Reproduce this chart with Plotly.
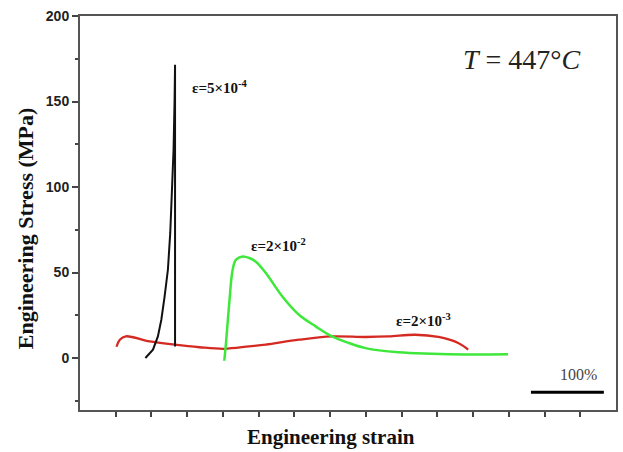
import plotly.graph_objects as go

# Strain (fraction) and stress (MPa)
black_strain = [0.915, 1.021, 1.09, 1.138, 1.184, 1.23, 1.263, 1.291, 1.309, 1.323, 1.33, 1.33]
black_stress = [0.0, 4.9, 12.6, 22.4, 36.0, 51.6, 73.3, 98.4, 121.8, 150.0, 171.5, 6.8]

red_strain = [0.511, 0.557, 0.641, 0.975, 1.323, 1.671, 2.019, 2.368, 2.60, 3.064, 3.528,
              3.993, 4.318, 4.689, 5.014, 5.292, 5.432]
red_stress = [6.6, 10.7, 12.7, 9.7, 7.8, 6.3, 5.4, 6.8, 7.8, 10.7, 12.6,
              12.3, 12.6, 13.6, 12.3, 8.8, 4.9]

green_strain = [2.019, 2.043, 2.089, 2.136, 2.183, 2.274, 2.368, 2.461, 2.60, 2.831, 3.064,
                3.297, 3.528, 3.76, 3.993, 4.457, 4.921, 5.385, 5.989]
green_stress = [-1.6, 8.9, 32.3, 51.6, 57.5, 59.4, 58.5, 56.3, 49.7, 36.0, 25.3,
                18.5, 12.6, 8.8, 5.8, 3.3, 2.5, 2.1, 2.2]

x_ticks = [0.5 * k for k in range(1, 15)]
y_ticks = [0, 50, 100, 150, 200]

serif = "Liberation Serif"

fig = go.Figure()
fig.add_trace(go.Scatter(x=red_strain, y=red_stress, mode="lines",
                         line=dict(color="#d42a22", width=2.3, shape="spline"), showlegend=False))
fig.add_trace(go.Scatter(x=green_strain, y=green_stress, mode="lines",
                         line=dict(color="#3ee83a", width=2.5, shape="spline"), showlegend=False))
fig.add_trace(go.Scatter(x=black_strain, y=black_stress, mode="lines",
                         line=dict(color="#111111", width=2), showlegend=False))

# scale bar
fig.add_shape(type="line", x0=6.31, x1=7.33, y0=-20, y1=-20,
              line=dict(color="black", width=3))
fig.add_annotation(x=6.98, y=-9.8, text="100%", showarrow=False,
                   font=dict(family=serif, size=16, color="#444"))

fig.add_annotation(x=1.542, y=158.7, xanchor="left", text="ε=5×10<sup>-4</sup>", showarrow=False,
                   font=dict(family=serif, size=15, color="#111", weight="bold"))
fig.add_annotation(x=2.368, y=66.3, xanchor="left", text="ε=2×10<sup>-2</sup>", showarrow=False,
                   font=dict(family=serif, size=15, color="#111", weight="bold"))
fig.add_annotation(x=4.387, y=22.4, xanchor="left", text="ε=2×10<sup>-3</sup>", showarrow=False,
                   font=dict(family=serif, size=15, color="#111", weight="bold"))
fig.add_annotation(x=5.334, y=174.4, xanchor="left", text="<i>T</i> = 447°<i>C</i>", showarrow=False,
                   font=dict(family=serif, size=28, color="#222"))

# axis titles (placed as in the reference, slightly off-centre)
fig.add_annotation(xref="paper", yref="paper", x=(332 - 80) / 538, y=-(437 - 410) / 394,
                   text="<b>Engineering strain</b>", showarrow=False, yanchor="middle",
                   font=dict(family=serif, size=21, color="#111"))
fig.add_annotation(xref="paper", yref="paper", x=-(80 - 25) / 538, y=(410 - 228) / 394,
                   text="<b>Engineering Stress (MPa)</b>", showarrow=False, textangle=-90,
                   xanchor="center", yanchor="middle",
                   font=dict(family=serif, size=22, color="#111"))

fig.update_layout(
    width=623, height=452,
    margin=dict(l=80, r=5, t=16, b=42),
    paper_bgcolor="white", plot_bgcolor="white",
    xaxis=dict(range=[0, 7.5], tickvals=x_ticks, showticklabels=False,
               ticks="outside", ticklen=5, tickwidth=1.5, tickcolor="#444",
               showline=True, linecolor="#555", linewidth=2, mirror=True,
               showgrid=False, zeroline=False),
    yaxis=dict(range=[-30.4, 200], tickvals=y_ticks,
               ticks="outside", ticklen=6, tickwidth=1.5, tickcolor="#444",
               minor=dict(dtick=25, tick0=0, ticks="outside", ticklen=3, tickcolor="#444"),
               showline=True, linecolor="#555", linewidth=2, mirror=True,
               showgrid=False, zeroline=False,
               tickfont=dict(family="Liberation Sans", size=14, color="#222", weight="bold")),
)

fig.write_html("out.html")
